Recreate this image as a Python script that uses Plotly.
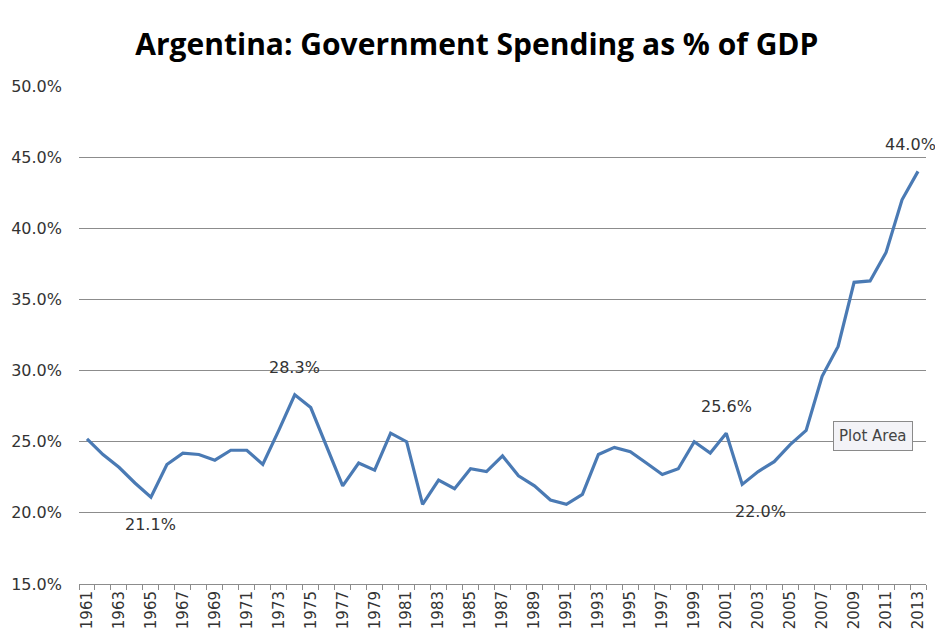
import plotly.graph_objects as go

years = list(range(1961, 2014))
spending = [25.2, 24.1, 23.2, 22.1, 21.1, 23.4, 24.2, 24.1, 23.7, 24.4,
            24.4, 23.4, 25.8, 28.3, 27.4, 24.7, 21.9, 23.5, 23.0, 25.6,
            25.0, 20.6, 22.3, 21.7, 23.1, 22.9, 24.0, 22.6, 21.9, 20.9,
            20.6, 21.3, 24.1, 24.6, 24.3, 23.5, 22.7, 23.1, 25.0, 24.2,
            25.6, 22.0, 22.9, 23.6, 24.8, 25.8, 29.6, 31.7, 36.2, 36.3,
            38.3, 42.0, 44.0]
label_years = [1965, 1974, 2001, 2002, 2013]
label_above = [False, True, True, False, True]
label_dx = [0, 0, 0, 18, -8]
tick_years = list(range(1961, 2014, 2))
y_ticks = [15, 20, 25, 30, 35, 40, 45, 50]

title = "Argentina: Government Spending as % of GDP"
line_color = "#4A7AB4"
grid_color = "#8C8C8C"
text_color = "#333333"

fig = go.Figure()
fig.add_trace(go.Scatter(x=years, y=spending, mode="lines",
                         line=dict(color=line_color, width=3.2),
                         hoverinfo="skip", showlegend=False))

annotations = []
for yr, above, dx in zip(label_years, label_above, label_dx):
    v = spending[years.index(yr)]
    annotations.append(dict(x=yr, y=v, xref="x", yref="y",
                            text=f"{v:.1f}%", showarrow=False,
                            xshift=dx, yshift=27 if above else -27,
                            font=dict(family="DejaVu Sans", size=16, color=text_color)))
annotations.append(dict(x=0.938, y=0.296, xref="paper", yref="paper",
                        xanchor="center", yanchor="middle",
                        text="Plot Area", showarrow=False,
                        bgcolor="#F3F3F7", bordercolor="#8A8A8A", borderwidth=1,
                        borderpad=5,
                        font=dict(family="DejaVu Sans", size=15, color="#444444")))

fig.update_layout(
    width=935, height=639,
    margin=dict(l=79, r=9, t=85, b=55),
    paper_bgcolor="white", plot_bgcolor="white",
    title=dict(text=f"<b>{title}</b>", x=0.51, xanchor="center",
               y=0.93, yanchor="middle",
               font=dict(family="Open Sans", size=30, color="black")),
    annotations=annotations,
    xaxis=dict(range=[1960.5, 2013.5], tickmode="array", tickvals=tick_years,
               ticktext=[str(y) for y in tick_years], tickangle=-90,
               ticks="", showgrid=False, zeroline=False,
               showline=True, linecolor=grid_color, linewidth=1,
               tickfont=dict(family="DejaVu Sans", size=15, color=text_color),
               minor=dict(ticks="outside", ticklen=5, tick0=1960.5, dtick=1,
                          tickcolor=grid_color, showgrid=False)),
    yaxis=dict(range=[15, 50.07], tickmode="array", tickvals=y_ticks,
               ticktext=[f"{v:.1f}%" for v in y_ticks],
               showgrid=True, gridcolor=grid_color, gridwidth=1,
               zeroline=False, ticks="", ticklabelstandoff=16,
               tickfont=dict(family="DejaVu Sans", size=16, color=text_color)),
)

fig.write_html("out.html")
